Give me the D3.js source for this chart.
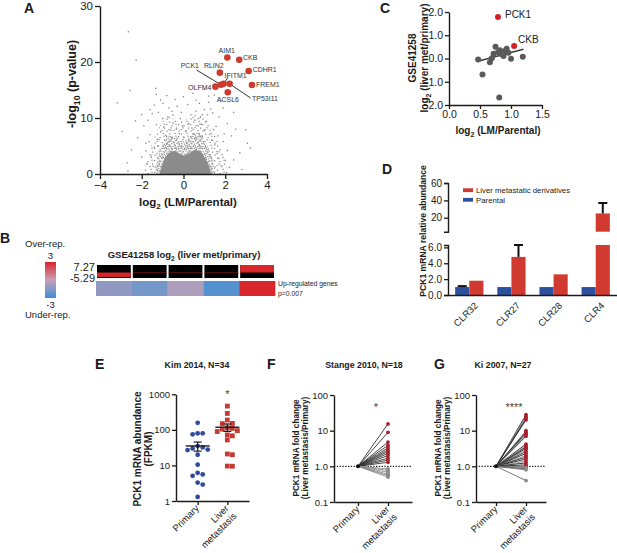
<!DOCTYPE html>
<html>
<head>
<meta charset="utf-8">
<script src="https://cdn.jsdelivr.net/npm/d3@7"></script>
<style>
  body { margin: 0; background: #fff; }
  svg { display: block; }
</style>
</head>
<body>
<svg id="fig" width="617" height="553"></svg>
<script>
// ---------------- data ----------------

// A: volcano plot, labelled hits
const hitGenes = ["AIM1", "CKB", "CDHR1", "RLIN2", "PCK1", "IFITM1", "OLFM4", "FREM1", "ACSL6", "TP53I11"]
const hitLogFC = [2.10, 2.67, 3.12, 1.74, 1.79, 1.92, 1.53, 3.28, 2.12, 2.21]
const hitLogP = [20.8, 20.4, 18.4, 18.1, 15.95, 16.1, 15.6, 15.9, 14.6, 16.1]

// A: scattered genes outside the dense cloud [log2FC, -log10 p]
const volcanoOutliers = [
    [-2.64, 25.4], [-2.27, 20.3], [-2.56, 14.9], [-3.17, 12.7], [-2.93, 7.6], [-2.49, 4.3],
    [-2.66, 0.5], [-1.33, 15.3], [-1.30, 14.2], [-1.10, 13.2], [-0.98, 12.6], [-1.60, 11.5],
    [-2.00, 10.6], [-2.20, 6.5], [-1.90, 8.6], [-1.70, 9.6], [-1.50, 10.8], [-1.80, 5.5],
    [-2.00, 3.0], [-1.75, 1.8], [-1.60, 7.0], [-1.20, 11.0], [-0.70, 11.8], [-0.50, 10.5],
    [-0.30, 12.1], [-0.10, 11.0], [0.20, 12.4], [0.60, 13.2], [0.76, 12.6], [0.45, 14.4],
    [1.00, 11.5], [1.20, 12.8], [1.48, 14.1], [1.20, 13.9], [1.56, 8.5], [1.70, 10.2],
    [1.90, 11.8], [2.10, 9.0], [2.30, 6.8], [2.50, 8.0], [2.98, 7.9], [3.06, 5.5],
    [3.20, 4.6], [2.70, 3.8], [2.40, 2.5], [2.20, 1.2], [2.80, 0.8], [1.90, 5.8],
    [2.10, 4.2], [1.80, 13.0], [1.00, 15.1], [-0.80, 14.0], [0.00, 13.8], [-2.30, 9.5],
    [-2.70, 2.0], [-1.40, 12.3], [0.90, 10.6], [1.40, 10.9], [-0.40, 13.3], [2.40, 11.0],
    [-1.40, 4.8], [-1.25, 6.2], [-1.10, 7.5], [-0.95, 8.4], [-0.85, 6.9], [-0.60, 7.8],
    [-0.50, 9.1], [-0.35, 8.0], [-0.20, 7.2], [-0.05, 8.6], [0.10, 7.6], [0.25, 9.0],
    [0.40, 8.2], [0.55, 9.6], [0.70, 8.6], [0.85, 8.9], [1.00, 7.8], [1.10, 9.4],
    [1.25, 7.1], [1.35, 6.0], [1.50, 5.2], [1.60, 4.0], [1.70, 2.8], [1.80, 1.5],
    [1.65, 6.8], [1.45, 7.9], [-1.55, 3.2], [-1.45, 1.4], [-1.65, 5.8], [-1.30, 8.8],
    [-0.75, 10.2], [-0.15, 9.9], [0.35, 10.6], [0.80, 10.1], [1.15, 10.6], [-1.00, 9.9],
    [0.60, 11.2], [-0.55, 11.2], [1.30, 11.6], [-1.80, 4.1], [2.00, 2.4], [1.95, 7.2],
    [-1.20, 5.0], [0.00, 6.6], [-0.30, 6.4], [0.45, 7.2], [0.90, 6.8], [-0.80, 5.3]
]
// A: outlines of the sparse, medium and solid parts of the gene cloud
const volcanoHalo = [[-1.9, 0], [-1.8, 2], [-1.6, 4.5], [-1.35, 7], [-1.05, 9.2], [-0.7, 10.2], [-0.3, 9.6],
    [0.1, 9.8], [0.5, 10.6], [0.9, 10.2], [1.3, 8.6], [1.6, 6.4], [1.85, 4], [2.05, 1.8], [2.15, 0]]
const volcanoMid = [[-1.35, 0], [-1.3, 1.8], [-1.15, 3.8], [-0.95, 5.6], [-0.7, 6.8], [-0.45, 6.6], [-0.2, 5.8],
    [0.05, 5.9], [0.35, 6.8], [0.65, 7.4], [0.95, 6.4], [1.2, 4.6], [1.4, 2.6], [1.55, 0]]
const volcanoCore = [[-1.15, 0], [-1.05, 1.4], [-0.9, 2.7], [-0.7, 3.7], [-0.45, 4.1], [-0.2, 3.6], [0.05, 3.3],
    [0.3, 3.8], [0.55, 4.3], [0.8, 4.0], [1.0, 3.0], [1.2, 1.6], [1.32, 0]]

// B: GSE41258 log2(liver met/primary) per gene set
const bRowValues = [-4.3, 0.15, 0.1, 0.12, 7.27]
const bHeatValues = [-1.2, -1.8, -0.6, -2.5, 3]

// C: log2(LM/Parental) vs GSE41258 log2(liver met/primary)
const cGrayX = [0.47, 0.54, 0.66, 0.69, 0.75, 0.79, 0.82, 0.84, 0.90, 0.93, 0.88, 1.00, 1.19, 0.81, 0.72, 0.96]
const cGrayY = [-0.04, -0.69, -0.16, 0.01, 0.51, 0.27, 0.36, 0.19, 0.32, 0.42, 0.11, -0.01, 0.08, -1.68, 0.20, 0.25]
const cHitGenes = ["PCK1", "CKB"]
const cHitX = [0.79, 1.05]
const cHitY = [1.78, 0.54]
const cFitX = [0.45, 1.20]
const cFitY = [-0.13, 0.40]

// D: PCK1 relative abundance
const dCellLines = ["CLR32", "CLR27", "CLR28", "CLR4"]
const dParental = [1.0, 1.0, 1.0, 1.0]
const dParentalErr = [0.12, 0, 0, 0]
const dLiver = [1.8, 4.8, 2.6, 25]
const dLiverErr = [0, 1.5, 0, 12]

// E: Kim 2014 FPKM
const eCategories = ["Primary", "Liver metastasis"]
const ePrimary = [158, 80, 75, 80, 35, 32, 30, 28, 27, 20, 10.5, 6.2, 5.1, 5.6, 3.3, 2.9, 1.3]
const eLiver = [466, 290, 189, 152, 150, 115, 110, 105, 95, 90, 72, 68, 52, 21, 20, 9.6, 9.5]

// F, G: fold change liver metastasis / primary
const fLiver = [15.5, 9.0, 4.8, 3.9, 3.3, 2.9, 2.6, 2.3, 2.0, 1.7, 1.5, 1.3, 0.85, 0.77, 0.68, 0.6, 0.55, 0.5]
const gLiver = [28, 25, 22, 20, 10, 9.2, 8.5, 7.8, 7, 4.2, 3.8, 3.5, 3.2, 2.9, 2.6, 2.3, 2.0, 1.8, 1.6, 1.4,
    1.25, 1.1, 1.0, 0.92, 0.85, 0.8, 0.4]
const foldTicks = [0.1, 1, 10, 100]
const foldTickLabels = ["0.1", "1.0", "10", "100"]

// ---------------- drawing ----------------

const FONT = '"Liberation Sans", Arial, Helvetica, sans-serif'
const INK = "#1a1a1a"
const RED = "#cc3b2e"
const svg = d3.select("#fig").attr("font-family", FONT)
const defs = svg.append("defs")

// parts: strings or {sub: "..."}
function richText(g, x, y, parts, size, opts = {}) {
    const t = g.append("text")
        .attr("x", x).attr("y", y)
        .attr("font-size", size)
        .attr("font-weight", opts.bold ? "bold" : null)
        .attr("text-anchor", opts.anchor || "start")
        .attr("fill", INK)
    if (opts.rotate) t.attr("transform", `rotate(${opts.rotate},${x},${y})`)
    let shifted = false
    parts.forEach(p => {
        const s = t.append("tspan")
        if (typeof p === "string") {
            s.text(p)
            if (shifted) { s.attr("dy", -size * 0.28); shifted = false }
        } else {
            s.text(p.sub).attr("font-size", size * 0.7).attr("dy", size * 0.28)
            shifted = true
        }
    })
    return t
}

function styleAxis(g, size) {
    g.attr("font-family", FONT).attr("font-size", size)
    g.select(".domain").attr("stroke", INK).attr("stroke-width", 1.4)
    g.selectAll(".tick line").attr("stroke", INK).attr("stroke-width", 1.3)
    g.selectAll(".tick text").attr("fill", INK)
    return g
}

// panel letters
const letters = svg.append("g").attr("font-size", 14).attr("font-weight", "bold").attr("fill", INK)
;[["A", 24, 13], ["B", 0, 243], ["C", 380, 13], ["D", 382, 174], ["E", 95, 369], ["F", 267, 369], ["G", 434, 369]]
    .forEach(([t, x, y]) => letters.append("text").attr("x", x).attr("y", y).text(t))

// ---- A ----
{
    const g = svg.append("g")
    const x = d3.scaleLinear().domain([-4, 4]).range([100, 267])
    const y = d3.scaleLinear().domain([0, 30]).range([174, 6])

    const dotPattern = (id, size, dots) => {
        const p = defs.append("pattern").attr("id", id)
            .attr("patternUnits", "userSpaceOnUse").attr("width", size).attr("height", size)
        dots.forEach(([dx, dy]) => p.append("rect").attr("x", dx).attr("y", dy)
            .attr("width", 1.2).attr("height", 1.2).attr("fill", "#858585"))
    }
    dotPattern("sparseDots", 12, [[1, 1.5], [6.5, 0.8], [10, 4], [3.5, 5], [8, 7.5], [0.5, 9], [5.5, 10], [10.5, 10.5],
        [2.5, 7.2], [7.4, 3.6]])
    dotPattern("denseDots", 10, [[0.3, 0.5], [2.6, 1.2], [5.1, 0.2], [7.4, 1.5], [8.7, 0.4], [1.2, 3.1], [3.8, 3.6],
        [6.3, 2.9], [8.6, 3.8], [0.1, 5.6], [2.4, 5.9], [4.9, 5.2], [7.2, 6.1], [8.5, 5.5], [1.5, 8.0],
        [3.9, 7.8], [6.0, 8.6], [8.2, 8.2], [0.6, 7.2], [5.2, 7.0]])

    const outline = pts => d3.line().x(d => x(d[0])).y(d => y(d[1])).curve(d3.curveCatmullRom)(pts) + "Z"
    g.append("path").attr("d", outline(volcanoHalo)).attr("fill", "url(#sparseDots)")
    g.append("path").attr("d", outline(volcanoMid)).attr("fill", "url(#denseDots)")
    g.append("path").attr("d", outline(volcanoCore)).attr("fill", "#8b8b8b")

    g.append("g").selectAll("rect").data(volcanoOutliers).join("rect")
        .attr("x", d => x(d[0]) - 0.65).attr("y", d => y(d[1]) - 0.65)
        .attr("width", 1.3).attr("height", 1.3).attr("fill", "#858585")

    styleAxis(g.append("g").attr("transform", "translate(0,174)")
        .call(d3.axisBottom(x).tickValues([-4, -2, 0, 2, 4]).tickSize(5).tickSizeOuter(0).tickPadding(2)), 11.5)
    styleAxis(g.append("g").attr("transform", "translate(100,0)")
        .call(d3.axisLeft(y).tickValues([0, 10, 20, 30]).tickSize(5).tickSizeOuter(0).tickPadding(2)), 11.5)

    richText(g, 76, 84, ["-log", {sub: "10"}, " (p-value)"], 12.5, {bold: true, anchor: "middle", rotate: -90})
    richText(g, 188, 206, ["log", {sub: "2"}, " (LM/Parental)"], 11.5, {bold: true, anchor: "middle"})

    // label offsets in px from each hit: [dx, dy, anchor]
    const labelOffsets = {
        AIM1: [-0.6, -4.8, "middle"], CKB: [3.8, 0.4, "start"], CDHR1: [4, 1, "start"],
        RLIN2: [-6, -4.3, "middle"], PCK1: [-31, -16.4, "middle"], IFITM1: [1, -6, "start"],
        OLFM4: [-4, 3.4, "end"], FREM1: [4, 2.3, "start"], ACSL6: [-11, 9.5, "start"],
        TP53I11: [22.4, 17.2, "start"]
    }
    const leaders = {PCK1: [-24.4, -14.7], IFITM1: [4.2, -6.1], TP53I11: [21, 14.2]}

    hitGenes.forEach((gene, i) => {
        const px = x(hitLogFC[i]), py = y(hitLogP[i])
        if (leaders[gene]) {
            g.append("line").attr("x1", px + leaders[gene][0]).attr("y1", py + leaders[gene][1])
                .attr("x2", px).attr("y2", py).attr("stroke", INK).attr("stroke-width", 0.9)
        }
    })
    g.append("g").selectAll("circle").data(hitGenes).join("circle")
        .attr("cx", (d, i) => x(hitLogFC[i])).attr("cy", (d, i) => y(hitLogP[i]))
        .attr("r", 3.3).attr("fill", RED)
    g.append("g").attr("font-size", 7).attr("fill", "#333")
        .selectAll("text").data(hitGenes).join("text")
        .attr("x", (d, i) => x(hitLogFC[i]) + labelOffsets[d][0])
        .attr("y", (d, i) => y(hitLogP[i]) + labelOffsets[d][1])
        .attr("text-anchor", d => labelOffsets[d][2])
        .text(d => d)
}

// ---- B ----
{
    const g = svg.append("g")
    const heat = d3.scaleLinear().domain([-3, 0, 3]).range(["#3d8fd4", "#c9a0b6", "#d8262b"])
    const grad = defs.append("linearGradient").attr("id", "heatBar")
        .attr("x1", 0).attr("y1", 0).attr("x2", 0).attr("y2", 1)
    ;[3, 1.5, 0, -1.5, -3].forEach((v, i) => grad.append("stop")
        .attr("offset", i / 4).attr("stop-color", heat(v)))

    g.append("rect").attr("x", 45).attr("y", 262).attr("width", 11).attr("height", 36).attr("fill", "url(#heatBar)")
    g.append("text").attr("x", 25).attr("y", 247).attr("font-size", 9.5).attr("fill", INK).text("Over-rep.")
    g.append("text").attr("x", 50.5).attr("y", 259).attr("font-size", 9.5).attr("text-anchor", "middle").attr("fill", INK).text("3")
    g.append("text").attr("x", 50.5).attr("y", 308).attr("font-size", 9.5).attr("text-anchor", "middle").attr("fill", INK).text("-3")
    g.append("text").attr("x", 25).attr("y", 318).attr("font-size", 9.5).attr("fill", INK).text("Under-rep.")

    richText(g, 184, 258, ["GSE41258 log", {sub: "2"}, " (liver met/primary)"], 9.5, {bold: true, anchor: "middle"})
    g.append("text").attr("x", 95).attr("y", 271).attr("font-size", 11).attr("text-anchor", "end").attr("fill", INK).text("7.27")
    g.append("text").attr("x", 95).attr("y", 282).attr("font-size", 11).attr("text-anchor", "end").attr("fill", INK).text("-5.29")

    const x = d3.scaleBand().domain(d3.range(bRowValues.length)).range([96, 275])
    const yRow = d3.scaleLinear().domain([-5.29, 7.27]).range([278, 265])

    g.append("g").selectAll("rect").data(bRowValues).join("rect")
        .attr("x", (d, i) => x(i) + 1).attr("y", 265)
        .attr("width", x.bandwidth() - 2).attr("height", 13).attr("fill", "#000")
    g.append("g").selectAll("rect").data(bRowValues).join("rect")
        .attr("x", (d, i) => x(i) + 1)
        .attr("y", d => Math.min(yRow(0), yRow(d)))
        .attr("width", x.bandwidth() - 2)
        .attr("height", d => Math.max(0.8, Math.abs(yRow(d) - yRow(0))))
        .attr("fill", d => Math.abs(d) < 1 ? "#7a1a1a" : "#d8262b")
    g.append("g").selectAll("rect").data(bHeatValues).join("rect")
        .attr("x", (d, i) => x(i)).attr("y", 281)
        .attr("width", x.bandwidth() + 0.3).attr("height", 15).attr("fill", d => heat(d))

    g.append("text").attr("x", 278).attr("y", 286).attr("font-size", 6.8).attr("fill", INK).text("Up-regulated genes")
    g.append("text").attr("x", 278).attr("y", 296).attr("font-size", 6.8).attr("fill", INK).text("p=0.007")
}

// ---- C ----
{
    const g = svg.append("g")
    const x = d3.scaleLinear().domain([0, 1.5]).range([449, 542])
    const y = d3.scaleLinear().domain([-2, 2]).range([105, 12])

    styleAxis(g.append("g").attr("transform", `translate(0,${y(-2)})`)
        .call(d3.axisBottom(x).tickValues([0, 0.5, 1, 1.5]).tickFormat(d3.format(".1f"))
            .tickSize(4).tickSizeOuter(0).tickPadding(2)), 10.5)
    styleAxis(g.append("g").attr("transform", `translate(${x(0)},0)`)
        .call(d3.axisLeft(y).tickValues([-2, -1, 0, 1, 2]).tickSize(4).tickSizeOuter(0).tickPadding(2)), 10.5)

    g.append("line")
        .attr("x1", x(cFitX[0])).attr("y1", y(cFitY[0]))
        .attr("x2", x(cFitX[1])).attr("y2", y(cFitY[1]))
        .attr("stroke", "#3a3a3a").attr("stroke-width", 1.6)
    g.append("g").selectAll("circle").data(cGrayX).join("circle")
        .attr("cx", d => x(d)).attr("cy", (d, i) => y(cGrayY[i])).attr("r", 3).attr("fill", "#5a5a5a")
    g.append("g").selectAll("circle").data(cHitGenes).join("circle")
        .attr("cx", (d, i) => x(cHitX[i])).attr("cy", (d, i) => y(cHitY[i])).attr("r", 3).attr("fill", "#d11f26")
    const cLabel = {PCK1: [7, 1], CKB: [4, -3]}
    g.append("g").attr("font-size", 10).attr("fill", INK)
        .selectAll("text").data(cHitGenes).join("text")
        .attr("x", (d, i) => x(cHitX[i]) + cLabel[d][0]).attr("y", (d, i) => y(cHitY[i]) + cLabel[d][1])
        .text(d => d)

    richText(g, 498, 134, ["log", {sub: "2"}, " (LM/Parental)"], 10, {bold: true, anchor: "middle"})
    richText(g, 416, 58, ["GSE41258"], 10, {bold: true, anchor: "middle", rotate: -90})
    richText(g, 428, 58, ["log", {sub: "2"}, " (liver met/primary)"], 10, {bold: true, anchor: "middle", rotate: -90})
}

// ---- D ----
{
    const g = svg.append("g")
    const yLow = d3.scaleLinear().domain([0, 6.3]).range([295, 245])
    const yUp = d3.scaleLinear().domain([4, 60]).range([231.7, 183])
    const x = d3.scaleBand().domain(dCellLines).range([448, 617]).paddingInner(0.33).paddingOuter(0.17)
    const sub = d3.scaleBand().domain(["Parental", "Liver"]).range([0, x.bandwidth()])
    const series = [
        {key: "Parental", values: dParental, errs: dParentalErr, color: "#2c4f9e"},
        {key: "Liver", values: dLiver, errs: dLiverErr, color: "#d03a30"}
    ]
    const lowTop = yLow.domain()[1]

    // segment: scale, base value of its bars, lowest value shown, highest value shown
    const segments = [
        {s: yLow, base: 0, from: 0, to: lowTop},
        {s: yUp, base: yUp.domain()[0], from: lowTop, to: yUp.domain()[1]}
    ]
    segments.forEach(({s, base, from, to}) => {
        series.forEach(ser => {
            const rows = ser.values.map((v, i) => ({v, e: ser.errs[i], cell: dCellLines[i]}))
                .filter(d => d.v > from)
            g.append("g").selectAll("rect").data(rows).join("rect")
                .attr("x", d => x(d.cell) + sub(ser.key))
                .attr("width", sub.bandwidth())
                .attr("y", d => s(Math.min(d.v, to)))
                .attr("height", d => s(base) - s(Math.min(d.v, to)))
                .attr("fill", ser.color)
            rows.filter(d => d.e && d.v <= to).forEach(d => {
                const cx = x(d.cell) + sub(ser.key) + sub.bandwidth() / 2
                const top = s(Math.min(d.v + d.e, to))
                g.append("line").attr("x1", cx).attr("x2", cx).attr("y1", s(d.v)).attr("y2", top)
                    .attr("stroke", "#111").attr("stroke-width", 2)
                g.append("line").attr("x1", cx - 4.5).attr("x2", cx + 4.5).attr("y1", top).attr("y2", top)
                    .attr("stroke", "#111").attr("stroke-width", 2)
            })
        })
    })

    styleAxis(g.append("g").attr("transform", "translate(448,0)")
        .call(d3.axisLeft(yLow).tickValues([0, 2, 4, 6]).tickSize(4).tickSizeOuter(4).tickPadding(2)), 10)
    styleAxis(g.append("g").attr("transform", "translate(448,0)")
        .call(d3.axisLeft(yUp).tickValues([20, 40, 60]).tickSize(4).tickSizeOuter(4).tickPadding(2)), 10)
    const xa = styleAxis(g.append("g").attr("transform", "translate(0,295)")
        .call(d3.axisBottom(x).tickSize(0).tickSizeOuter(0).tickPadding(6)), 9.5)
    xa.selectAll(".tick text")
        .attr("text-anchor", "end").attr("dy", 0)
        .attr("transform", "translate(5,7) rotate(-45)")

    richText(g, 426, 231, ["PCK1 mRNA relative abundance"], 8.6, {bold: true, anchor: "middle", rotate: -90})

    const legend = g.append("g").attr("font-size", 7.8).attr("fill", INK)
    series.slice().reverse().forEach((ser, i) => {
        legend.append("rect").attr("x", 463).attr("y", 188.3 + i * 9.6).attr("width", 10).attr("height", 3.8).attr("fill", ser.color)
        legend.append("text").attr("x", 476).attr("y", 193 + i * 9.6)
            .text(ser.key === "Liver" ? "Liver metastatic derivatives" : "Parental")
    })
}

// ---- shared for E, F, G ----
function categoryAxis(g, x, y0) {
    styleAxis(g.append("g").attr("transform", `translate(0,${y0})`)
        .call(d3.axisBottom(x).tickSize(4).tickSizeOuter(0).tickFormat("")), 9.5)
    g.append("text").attr("font-size", 9.5).attr("fill", INK).attr("text-anchor", "end")
        .attr("transform", `translate(${x("Primary") + 2},${y0 + 8}) rotate(-45)`).text("Primary")
    const t = g.append("text").attr("font-size", 9.5).attr("fill", INK).attr("text-anchor", "end")
        .attr("transform", `translate(${x("Liver metastasis") + 2},${y0 + 8}) rotate(-45)`)
    t.append("tspan").attr("x", 0).text("Liver")
    t.append("tspan").attr("x", 0).attr("dy", "1.15em").text("metastasis")
}

function swarm(values, y, cx, r) {
    const placed = []
    return values.map(v => ({v, y: y(v)})).sort((a, b) => a.y - b.y).map(p => {
        for (let k = 0; ; k++) {
            const xx = cx + (k % 2 ? 1 : -1) * Math.ceil(k / 2) * r * 2.1
            if (placed.every(q => Math.hypot(q.x - xx, q.y - p.y) >= r * 2.05)) {
                const pt = {v: p.v, x: xx, y: p.y}
                placed.push(pt)
                return pt
            }
        }
    })
}

// ---- E ----
{
    const g = svg.append("g")
    const y = d3.scaleLog().domain([1, 1000]).range([501, 394.3])
    const x = d3.scalePoint().domain(eCategories).range([176, 249]).padding(0.73)

    styleAxis(g.append("g").attr("transform", "translate(176,0)")
        .call(d3.axisLeft(y).tickValues([1, 10, 100, 1000]).tickFormat(d3.format("d"))
            .tickSize(4).tickSizeOuter(0).tickPadding(2)), 9.5)
    categoryAxis(g, x, 501)

    const r = 2.4
    g.append("g").selectAll("circle").data(swarm(ePrimary, y, x("Primary"), r)).join("circle")
        .attr("cx", d => d.x).attr("cy", d => d.y).attr("r", r).attr("fill", "#2f4b9c")
    g.append("g").selectAll("rect").data(swarm(eLiver, y, x("Liver metastasis"), r)).join("rect")
        .attr("x", d => d.x - r).attr("y", d => d.y - r).attr("width", 2 * r).attr("height", 2 * r)
        .attr("fill", "#c23b34")

    ;[ePrimary, eLiver].forEach((vals, i) => {
        const cx = x(eCategories[i])
        const m = d3.mean(vals), sem = d3.deviation(vals) / Math.sqrt(vals.length)
        g.append("line").attr("x1", cx - 12).attr("x2", cx + 12).attr("y1", y(m)).attr("y2", y(m))
            .attr("stroke", INK).attr("stroke-width", 1.4)
        g.append("line").attr("x1", cx).attr("x2", cx).attr("y1", y(m - sem)).attr("y2", y(m + sem))
            .attr("stroke", INK).attr("stroke-width", 1.2)
        ;[m - sem, m + sem].forEach(v => g.append("line").attr("x1", cx - 4).attr("x2", cx + 4)
            .attr("y1", y(v)).attr("y2", y(v)).attr("stroke", INK).attr("stroke-width", 1.2))
    })

    g.append("text").attr("x", x("Liver metastasis")).attr("y", 398).attr("text-anchor", "middle")
        .attr("font-size", 11).attr("fill", "#444").text("*")
    richText(g, 197, 368, ["Kim 2014, N=34"], 8.8, {bold: true, anchor: "middle"})
    richText(g, 141, 449, ["PCK1 mRNA abundance"], 10, {bold: true, anchor: "middle", rotate: -90})
    richText(g, 152, 449, ["(FPKM)"], 10, {bold: true, anchor: "middle", rotate: -90})
}

// ---- F, G ----
function pairedPanel(values, axisX, axisEnd, pad, title, titleX, star, starX, lineShade) {
    const g = svg.append("g")
    const y = d3.scaleLog().domain([0.1, 100]).range([502, 395])
    const x = d3.scalePoint().domain(eCategories).range([axisX, axisEnd]).padding(pad)

    g.append("line").attr("x1", axisX).attr("x2", axisEnd).attr("y1", y(1)).attr("y2", y(1))
        .attr("stroke", INK).attr("stroke-width", 1.2).attr("stroke-dasharray", "1.3,1.5")

    const x0 = x("Primary"), x1 = x("Liver metastasis")
    g.append("g").selectAll("line").data(values).join("line")
        .attr("x1", x0).attr("y1", y(1)).attr("x2", x1).attr("y2", d => y(d))
        .attr("stroke", (d, i) => lineShade(d, i)).attr("stroke-width", 0.9)
    g.append("circle").attr("cx", x0).attr("cy", y(1)).attr("r", 2).attr("fill", "#111")
    g.append("g").selectAll("circle").data(values).join("circle")
        .attr("cx", x1).attr("cy", d => y(d)).attr("r", 1.9)
        .attr("fill", d => d >= 1 ? "#a8202d" : "#8a8a8a")

    styleAxis(g.append("g").attr("transform", `translate(${axisX},0)`)
        .call(d3.axisLeft(y).tickValues(foldTicks).tickFormat((d, i) => foldTickLabels[i])
            .tickSize(4).tickSizeOuter(0).tickPadding(2)), 9.5)
    categoryAxis(g, x, 502)

    g.append("text").attr("x", starX).attr("y", 411).attr("text-anchor", "middle")
        .attr("font-size", 11).attr("fill", "#444").text(star)
    richText(g, titleX, 368, [title], 8.8, {bold: true, anchor: "middle"})
    richText(g, axisX - 35, 448, ["PCK1 mRNA fold change"], 8.2, {bold: true, anchor: "middle", rotate: -90})
    richText(g, axisX - 26, 448, ["(Liver metastasis/Primary)"], 8.2, {bold: true, anchor: "middle", rotate: -90})
}

pairedPanel(fLiver, 334, 412, 0.8, "Stange 2010, N=18", 364, "*", 376,
    d => d >= 1 ? "#333" : "#8a8a8a")
pairedPanel(gLiver, 476, 546, 0.667, "Ki 2007, N=27", 503, "****", 514,
    (d, i) => d < 1 ? "#666" : (i % 3 === 1 ? "#8a8a8a" : "#222"))
</script>
</body>
</html>
